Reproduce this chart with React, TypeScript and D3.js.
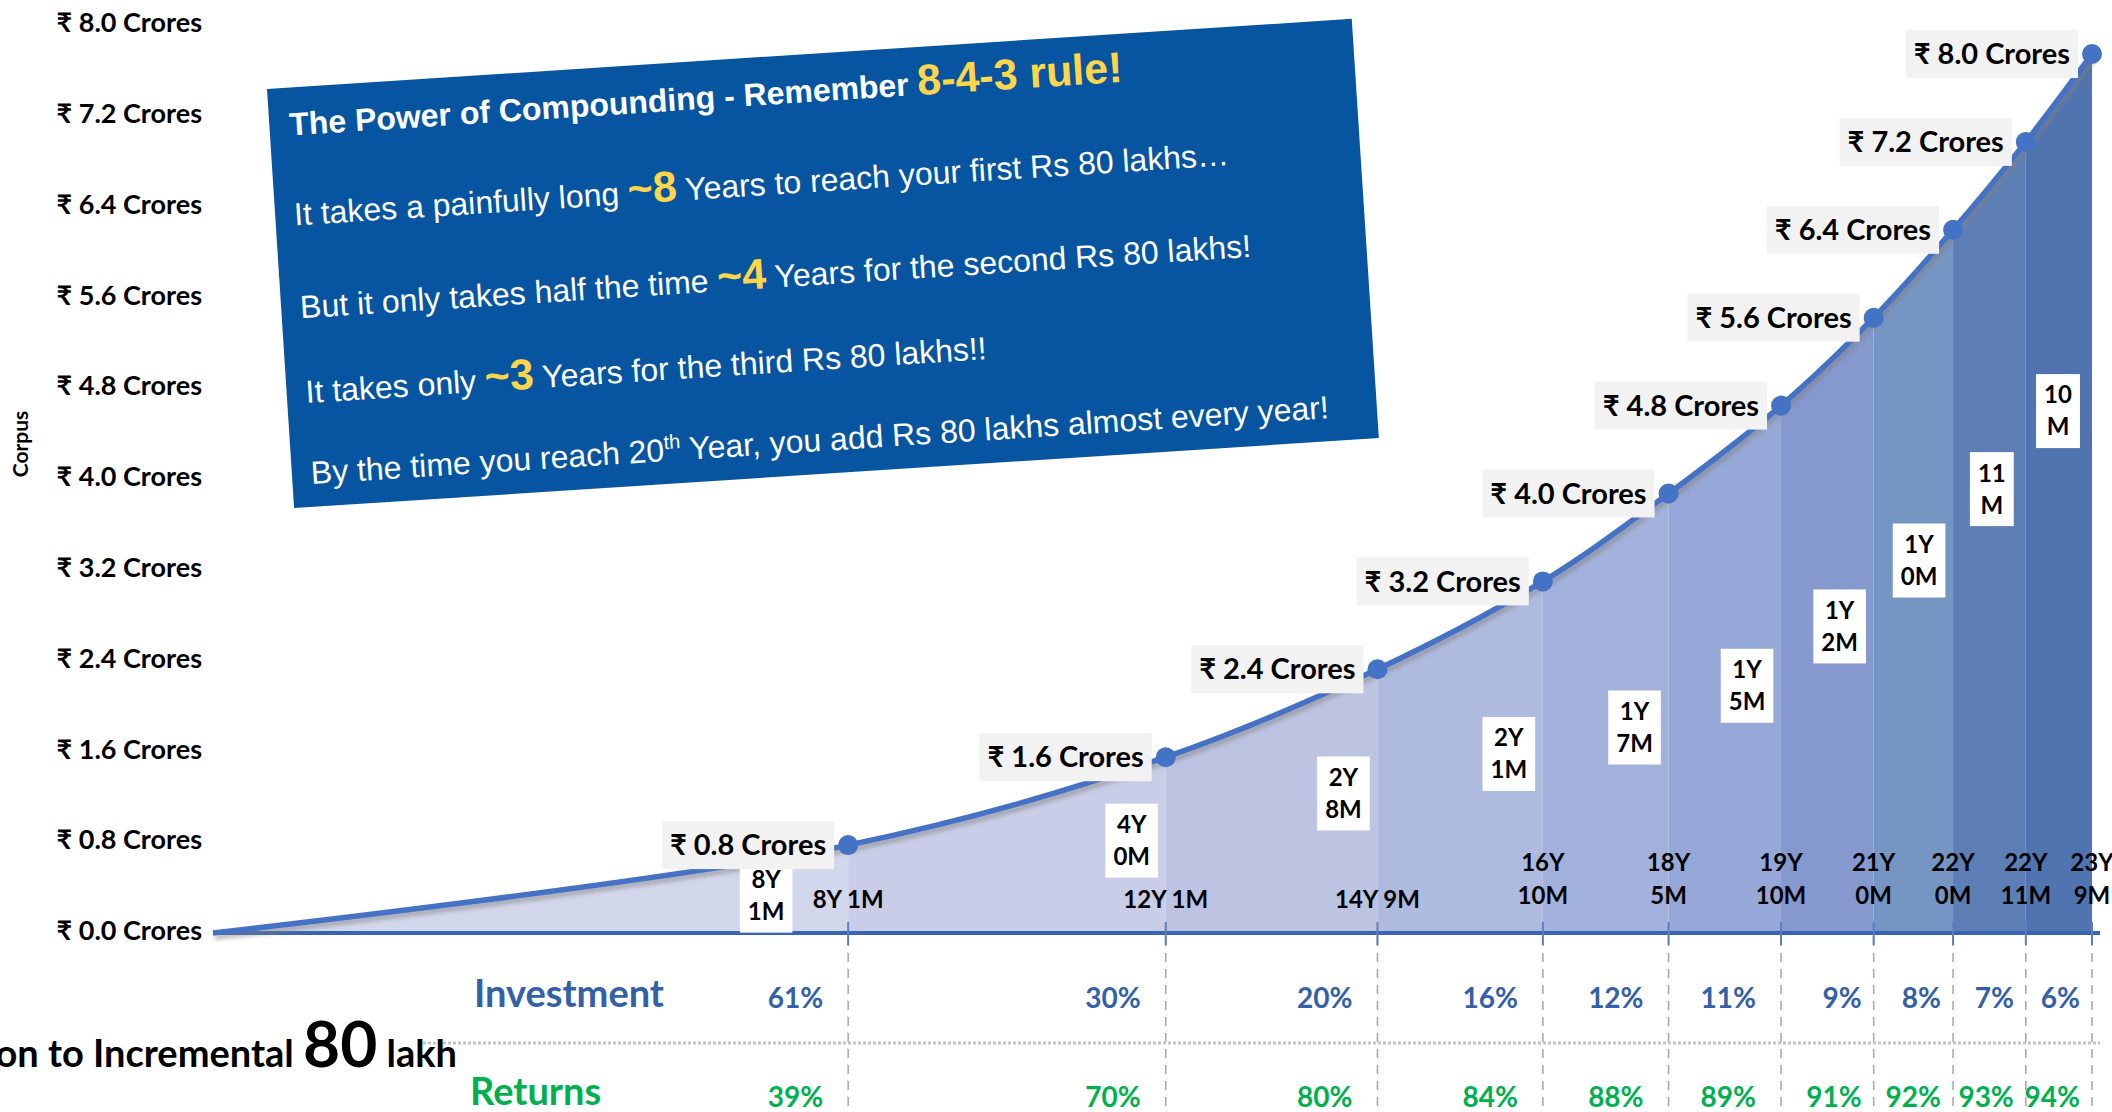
import React, { useRef, useEffect } from "react";
import * as d3 from "d3";

// months elapsed since the SIP start and corpus reached (in crores)
const monthsElapsed = [1, 97, 145, 177, 202, 221, 238, 252, 264, 275, 285];
const corpusCrores = [0, 0.8, 1.6, 2.4, 3.2, 4.0, 4.8, 5.6, 6.4, 7.2, 8.0];

// axis labels under each milestone
const milestoneLabels = [
  ["8Y 1M"], ["12Y 1M"], ["14Y 9M"], ["16Y", "10M"], ["18Y", "5M"],
  ["19Y", "10M"], ["21Y", "0M"], ["22Y", "0M"], ["22Y", "11M"], ["23Y", "9M"],
];

// time taken for each incremental 80 lakh, and the level the label sits at
const gapLabels = [
  ["8Y", "1M"], ["4Y", "0M"], ["2Y", "8M"], ["2Y", "1M"], ["1Y", "7M"],
  ["1Y", "5M"], ["1Y", "2M"], ["1Y", "0M"], ["11", "M"], ["10", "M"],
];
const gapLabelLevel = [0.34, 0.84, 1.27, 1.63, 1.87, 2.25, 2.79, 3.39, 4.04, 4.75];

// contribution to each incremental 80 lakh
const investmentShare = [61, 30, 20, 16, 12, 11, 9, 8, 7, 6];
const returnsShare = [39, 70, 80, 84, 88, 89, 91, 92, 93, 94];

const yTickValues = [0, 0.8, 1.6, 2.4, 3.2, 4.0, 4.8, 5.6, 6.4, 7.2, 8.0];

const segmentColors = [
  "#d3d7ec", "#c9cde7", "#bcc4e1", "#afbadf", "#a3b2dc",
  "#95a8d7", "#8599cf", "#7596c3", "#5e7fb6", "#4f74b0",
];

const W = 2112;
const H = 1112;
const CAL = "Lato, 'Open Sans', sans-serif";
const ARIAL = "'Liberation Sans', Arial, sans-serif";

export default function App() {
  const svgRef = useRef<SVGSVGElement>(null);

  useEffect(() => {
    const svg = d3.select(svgRef.current);
    svg.selectAll("*").remove();

    const x = d3.scaleLinear().domain([1, 285]).range([213, 2092]);
    const y = d3.scaleLinear().domain([0, 8]).range([933, 54]);
    const yTickPos = d3.scaleLinear().domain([0, 8]).range([931, 23]);

    const data = monthsElapsed.map((m, i) => ({ m, v: corpusCrores[i] }));

    const defs = svg.append("defs");
    const shadow = defs.append("filter").attr("id", "lineShadow")
      .attr("x", "-5%").attr("y", "-5%").attr("width", "110%").attr("height", "120%");
    shadow.append("feDropShadow").attr("dx", 2).attr("dy", 4)
      .attr("stdDeviation", 2).attr("flood-color", "#808080").attr("flood-opacity", 0.55);

    // y tick labels
    const yAxis = svg.append("g")
      .attr("transform", "translate(202,0)")
      .call(
        d3.axisLeft(yTickPos)
          .tickValues(yTickValues)
          .tickSize(0)
          .tickPadding(0)
          .tickFormat((d) => `₹ ${(+d).toFixed(1)} Crores`)
      );
    yAxis.select(".domain").remove();
    yAxis.selectAll("text")
      .attr("font-family", CAL).attr("font-size", 27).attr("font-weight", 700)
      .attr("fill", "#000");

    svg.append("text")
      .attr("transform", "translate(28,444) rotate(-90)")
      .attr("text-anchor", "middle")
      .attr("font-family", CAL).attr("font-size", 21).attr("font-weight", 700)
      .text("Corpus");

    // stacked-looking area segments
    const area = d3.area<any>()
      .x((d) => x(d.m)).y0(y(0)).y1((d) => y(d.v))
      .curve(d3.curveCatmullRom);
    for (let i = 0; i < monthsElapsed.length - 1; i++) {
      defs.append("clipPath").attr("id", `seg${i}`)
        .append("rect")
        .attr("x", x(monthsElapsed[i]))
        .attr("y", 0)
        .attr("width", x(monthsElapsed[i + 1]) - x(monthsElapsed[i]))
        .attr("height", y(0));
      svg.append("path")
        .attr("d", area(data))
        .attr("fill", segmentColors[i])
        .attr("clip-path", `url(#seg${i})`);
    }

    // dashed guides below the axis
    svg.append("g").selectAll("line")
      .data(monthsElapsed.slice(1))
      .join("line")
      .attr("x1", (d) => x(d)).attr("x2", (d) => x(d))
      .attr("y1", 937).attr("y2", H)
      .attr("stroke", "#a6a6a6").attr("stroke-width", 1.5)
      .attr("stroke-dasharray", "9,7");

    svg.append("line")
      .attr("x1", 418).attr("x2", 2100).attr("y1", 1043).attr("y2", 1043)
      .attr("stroke", "#c4c4c4").attr("stroke-width", 3)
      .attr("stroke-dasharray", "3,2");

    // axis line + ticks
    svg.append("line")
      .attr("x1", x(1)).attr("x2", 2100).attr("y1", 933).attr("y2", 933)
      .attr("stroke", "#3a64b0").attr("stroke-width", 4);
    svg.append("g").selectAll("line")
      .data(monthsElapsed.slice(1))
      .join("line")
      .attr("x1", (d) => x(d)).attr("x2", (d) => x(d))
      .attr("y1", 922).attr("y2", 945)
      .attr("stroke", "#5b7fc0").attr("stroke-width", 2);

    // corpus line
    const line = d3.line<any>()
      .x((d) => x(d.m)).y((d) => y(d.v))
      .curve(d3.curveCatmullRom);
    svg.append("path")
      .attr("d", line(data))
      .attr("fill", "none")
      .attr("stroke", "#4472c4")
      .attr("stroke-width", 5.5)
      .attr("filter", "url(#lineShadow)");

    // milestone labels under the curve
    milestoneLabels.forEach((lines, i) => {
      const cx = x(monthsElapsed[i + 1]);
      const g = svg.append("text")
        .attr("text-anchor", "middle")
        .attr("font-family", CAL).attr("font-size", 24).attr("font-weight", 700)
        .attr("fill", "#000");
      if (lines.length === 1) {
        g.append("tspan").attr("x", cx).attr("y", 900).attr("dy", "0.35em").text(lines[0]);
      } else {
        g.append("tspan").attr("x", cx).attr("y", 863).attr("dy", "0.35em").text(lines[0]);
        g.append("tspan").attr("x", cx).attr("y", 896).attr("dy", "0.35em").text(lines[1]);
      }
    });

    // gap labels (white boxes)
    gapLabels.forEach((lines, i) => {
      const cx = x(monthsElapsed[i + 1]) - (i === 0 ? 82 : 34);
      const cy = y(gapLabelLevel[i]);
      const g = svg.append("g");
      const rect = g.append("rect").attr("fill", "#fff");
      const t = g.append("text")
        .attr("text-anchor", "middle")
        .attr("font-family", CAL).attr("font-size", 24).attr("font-weight", 700);
      t.append("tspan").attr("x", cx).attr("y", cy - 16).attr("dy", "0.35em").text(lines[0]);
      t.append("tspan").attr("x", cx).attr("y", cy + 16).attr("dy", "0.35em").text(lines[1]);
      const bw = (t.node() as SVGTextElement).getBBox().width + 16;
      rect.attr("x", cx - bw / 2).attr("y", cy - 37).attr("width", bw).attr("height", 74);
    });

    // points + value labels
    data.slice(1).forEach((d) => {
      const px = x(d.m);
      const py = y(d.v);
      const g = svg.append("g");
      const rect = g.append("rect").attr("fill", "#f2f2f2");
      const t = g.append("text")
        .attr("x", px - 22).attr("y", py).attr("dy", "0.35em")
        .attr("text-anchor", "end")
        .attr("font-family", CAL).attr("font-size", 29).attr("font-weight", 700)
        .text(`₹ ${d.v.toFixed(1)} Crores`);
      const bw = (t.node() as SVGTextElement).getBBox().width + 16;
      rect.attr("x", px - 14 - bw).attr("y", py - 24).attr("width", bw).attr("height", 48);
      svg.append("circle").attr("cx", px).attr("cy", py).attr("r", 10).attr("fill", "#4472c4");
    });

    // table rows
    svg.append("text").attr("x", 474).attr("y", 994).attr("dy", "0.35em")
      .attr("font-family", CAL).attr("font-size", 38).attr("font-weight", 700)
      .attr("fill", "#3460a8").text("Investment");
    svg.append("text").attr("x", 470).attr("y", 1092).attr("dy", "0.35em")
      .attr("font-family", CAL).attr("font-size", 38).attr("font-weight", 700)
      .attr("fill", "#00b050").text("Returns");

    const segW = (i: number) => x(monthsElapsed[i + 1]) - x(monthsElapsed[i]);
    const pctX = (i: number) => x(monthsElapsed[i + 1]) - (segW(i) > 100 ? 25 : 12);
    svg.append("g").selectAll("text")
      .data(investmentShare)
      .join("text")
      .attr("x", (_, i) => pctX(i)).attr("y", 998).attr("dy", "0.35em")
      .attr("text-anchor", "end")
      .attr("font-family", CAL).attr("font-size", 28).attr("font-weight", 700)
      .attr("fill", "#3460a8")
      .text((d) => `${d}%`);
    svg.append("g").selectAll("text")
      .data(returnsShare)
      .join("text")
      .attr("x", (_, i) => pctX(i)).attr("y", 1097).attr("dy", "0.35em")
      .attr("text-anchor", "end")
      .attr("font-family", CAL).attr("font-size", 28).attr("font-weight", 700)
      .attr("fill", "#00b050")
      .text((d) => `${d}%`);

    const left = svg.append("text")
      .attr("x", 457).attr("y", 1067).attr("text-anchor", "end")
      .attr("font-family", CAL).attr("font-weight", 700).attr("fill", "#000");
    left.append("tspan").attr("font-size", 38).text("Contribution to Incremental ");
    left.append("tspan").attr("font-size", 64).text("80");
    left.append("tspan").attr("font-size", 38).text(" lakh");

    // rotated call-out box
    const box = svg.append("g").attr("transform", "translate(267,89) rotate(-3.7)");
    box.append("rect").attr("width", 1087).attr("height", 420).attr("fill", "#0755a0");
    const yellow = "#ffd54a";
    const t0 = box.append("text").attr("x", 20).attr("y", 48)
      .attr("font-family", ARIAL).attr("font-weight", 700).attr("fill", "#fff");
    t0.append("tspan").attr("font-size", 32).text("The Power of Compounding - Remember ");
    t0.append("tspan").attr("font-size", 43).attr("fill", yellow).text("8-4-3 rule!");

    const bodyLines = [
      { y: 138, pre: "It takes a painfully long ", hi: "~8", post: " Years to reach your first Rs 80 lakhs…" },
      { y: 231, pre: "But it only takes half the time ", hi: "~4", post: " Years for the second Rs 80 lakhs!" },
      { y: 316, pre: "It takes only ", hi: "~3", post: " Years for the third Rs 80 lakhs!!" },
    ];
    bodyLines.forEach((l) => {
      const t = box.append("text").attr("x", 19).attr("y", l.y)
        .attr("font-family", ARIAL).attr("font-size", 32).attr("fill", "#fff");
      t.append("tspan").text(l.pre);
      t.append("tspan").attr("font-size", 43).attr("font-weight", 700).attr("fill", yellow).text(l.hi);
      t.append("tspan").text(l.post);
    });
    const t5 = box.append("text").attr("x", 19).attr("y", 397)
      .attr("font-family", ARIAL).attr("font-size", 32).attr("fill", "#fff");
    t5.append("tspan").text("By the time you reach 20");
    t5.append("tspan").attr("font-size", 20).attr("dy", -12).text("th");
    t5.append("tspan").attr("dy", 12).text(" Year, you add Rs 80 lakhs almost every year!");
  }, []);

  return (
    <svg
      ref={svgRef}
      width={W}
      height={H}
      style={{ position: "absolute", left: 0, top: 0, background: "#fff" }}
    />
  );
}
